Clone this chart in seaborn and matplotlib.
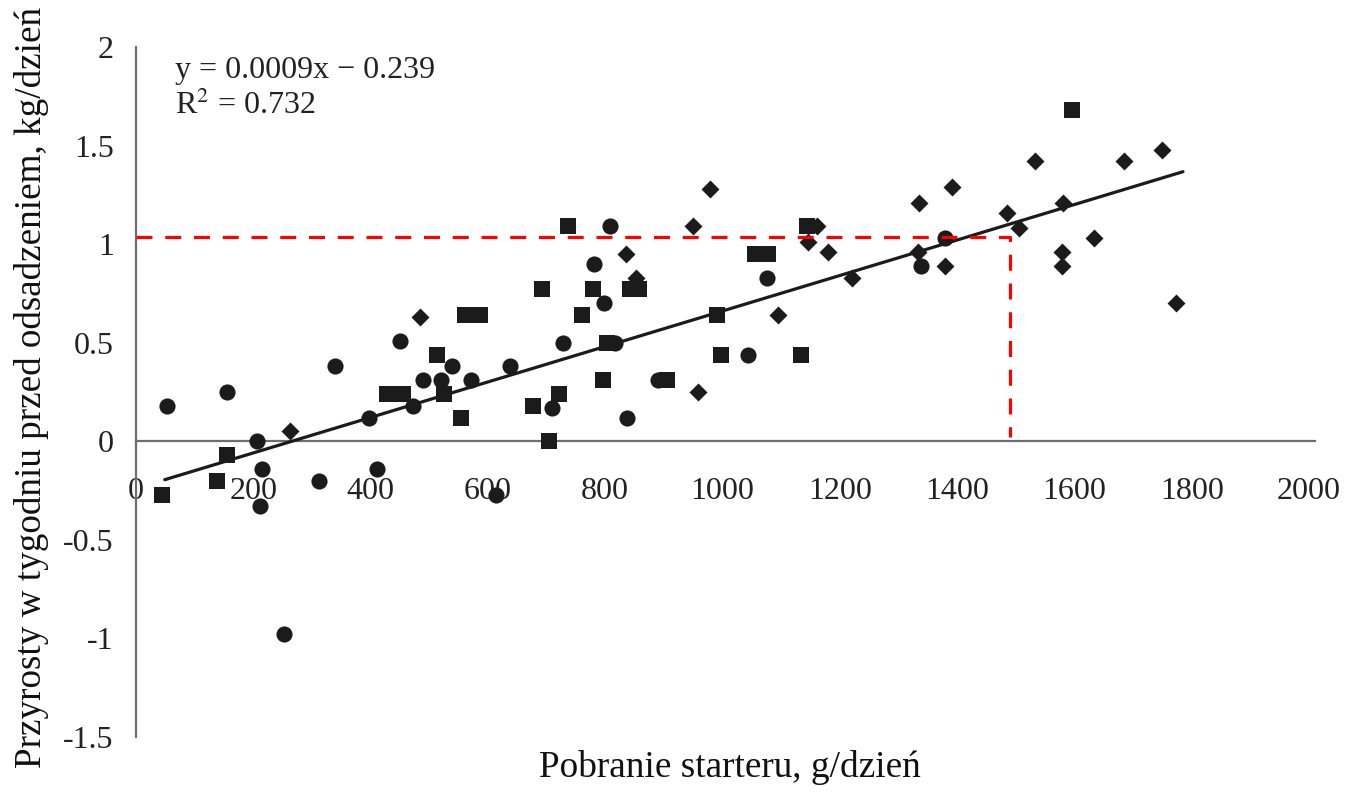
import numpy as np
import pandas as pd
from matplotlib import pyplot as plt
import seaborn as sns

# points, three groups of animals (marker shapes)
circle_x = [53, 155, 339, 450, 539, 489, 520, 571, 638, 472, 397, 206, 215, 312, 411, 211, 614, 252,
            808, 781, 1076, 798, 728, 817, 1044, 890, 709, 837, 1338, 1379]
circle_y = [0.18, 0.25, 0.38, 0.51, 0.38, 0.31, 0.31, 0.31, 0.38, 0.18, 0.12, 0.0, -0.14, -0.20, -0.14, -0.33, -0.27, -0.98,
            1.09, 0.90, 0.83, 0.70, 0.50, 0.50, 0.44, 0.31, 0.17, 0.12, 0.89, 1.03]

square_x = [561, 587, 513, 525, 428, 455, 554, 155, 138, 44, 737, 1055, 1078, 843, 857, 692, 779, 760,
            990, 803, 997, 1134, 796, 905, 721, 677, 704, 1144, 1596]
square_y = [0.64, 0.64, 0.44, 0.24, 0.24, 0.24, 0.12, -0.07, -0.20, -0.27, 1.09, 0.95, 0.95, 0.77, 0.77, 0.77, 0.77, 0.64,
            0.64, 0.50, 0.44, 0.44, 0.31, 0.31, 0.24, 0.18, 0.0, 1.09, 1.68]

diamond_x = [484, 263, 950, 835, 852, 1095, 958, 979, 1335, 1391, 1161, 1146, 1180, 1221, 1333, 1379,
             1485, 1506, 1581, 1579, 1579, 1633, 1685, 1749, 1773, 1533]
diamond_y = [0.63, 0.05, 1.09, 0.95, 0.83, 0.64, 0.25, 1.28, 1.21, 1.29, 1.09, 1.01, 0.96, 0.83, 0.96, 0.89,
             1.16, 1.08, 1.21, 0.96, 0.89, 1.03, 1.42, 1.48, 0.70, 1.42]

slope = 0.0009
intercept = -0.239
r2 = 0.732

ref_x = 1490
ref_y = 1.035

x_ticks = [0, 200, 400, 600, 800, 1000, 1200, 1400, 1600, 1800, 2000]
y_ticks = [-1.5, -1, -0.5, 0, 0.5, 1, 1.5, 2]
y_tick_labels = ["-1.5", "-1", "-0.5", "0", "0.5", "1", "1.5", "2"]


def main():
    sns.set_style("white")
    plt.rcParams['font.family'] = ['Liberation Serif', 'DejaVu Serif']
    plt.rcParams['mathtext.fontset'] = 'stix'

    fig = plt.figure(figsize=(13.52, 7.94), dpi=100)
    ax = fig.add_axes([0.1006, 0.0718, 0.872, 0.869])

    ink = '#1b1b1b'
    groups = [(circle_x, circle_y, 'o', 135), (square_x, square_y, 's', 130), (diamond_x, diamond_y, 'D', 84)]
    for gx, gy, mk, size in groups:
        df = pd.DataFrame({"x": gx, "y": gy})
        sns.scatterplot(x="x", y="y", data=df, marker=mk, s=size, color=ink, edgecolor=ink, linewidth=0,
                        ax=ax, zorder=3)

    # trend line from the reported equation over the data range
    all_x = np.array(circle_x + square_x + diamond_x)
    line_x = np.array([all_x.min() + 5, all_x.max() + 12])
    ax.plot(line_x, slope * line_x + intercept, color=ink, lw=2.3, zorder=4)

    # red guide lines
    ax.plot([0, ref_x, ref_x], [ref_y, ref_y, 0.02], color='#ff0000', lw=2.3, ls=(0, (5, 4)), zorder=5)

    ax.text(66, 1.88, "y = 0.0009x \u2212 0.239", fontsize=23, va='center', ha='left', color='#222222')
    ax.text(66, 1.70, "R$^2$ = 0.732", fontsize=23, va='center', ha='left', color='#222222')

    ax.set_xlim(0, 2010)
    ax.set_ylim(-1.5, 2.0)
    ax.set_xticks(x_ticks)
    ax.set_xticklabels([str(t) for t in x_ticks])
    ax.set_yticks(y_ticks)
    ax.set_yticklabels(y_tick_labels)
    ax.tick_params(axis='both', length=0, labelsize=23, colors='#222222')
    ax.tick_params(axis='x', pad=26)
    ax.tick_params(axis='y', pad=16)

    for side in ['top', 'right']:
        ax.spines[side].set_visible(False)
    ax.spines['bottom'].set_position(('data', 0))
    ax.spines['bottom'].set_color('#6e6e6e')
    ax.spines['left'].set_color('#6e6e6e')
    ax.spines['bottom'].set_linewidth(1.6)
    ax.spines['left'].set_linewidth(1.6)

    ax.set_xlabel('Pobranie starteru, g/dzie\u0144', fontsize=26.8, color='#111111', va='baseline')
    ax.set_ylabel('Przyrosty w tygodniu przed odsadzeniem, kg/dzie\u0144', fontsize=26.7, color='#111111',
                  va='baseline')
    ax.xaxis.set_label_coords(0.504, -0.058)
    ax.yaxis.set_label_coords(-0.081, 0.507)

    fig.savefig('out.png', dpi=100)


if __name__ == '__main__':
    main()
